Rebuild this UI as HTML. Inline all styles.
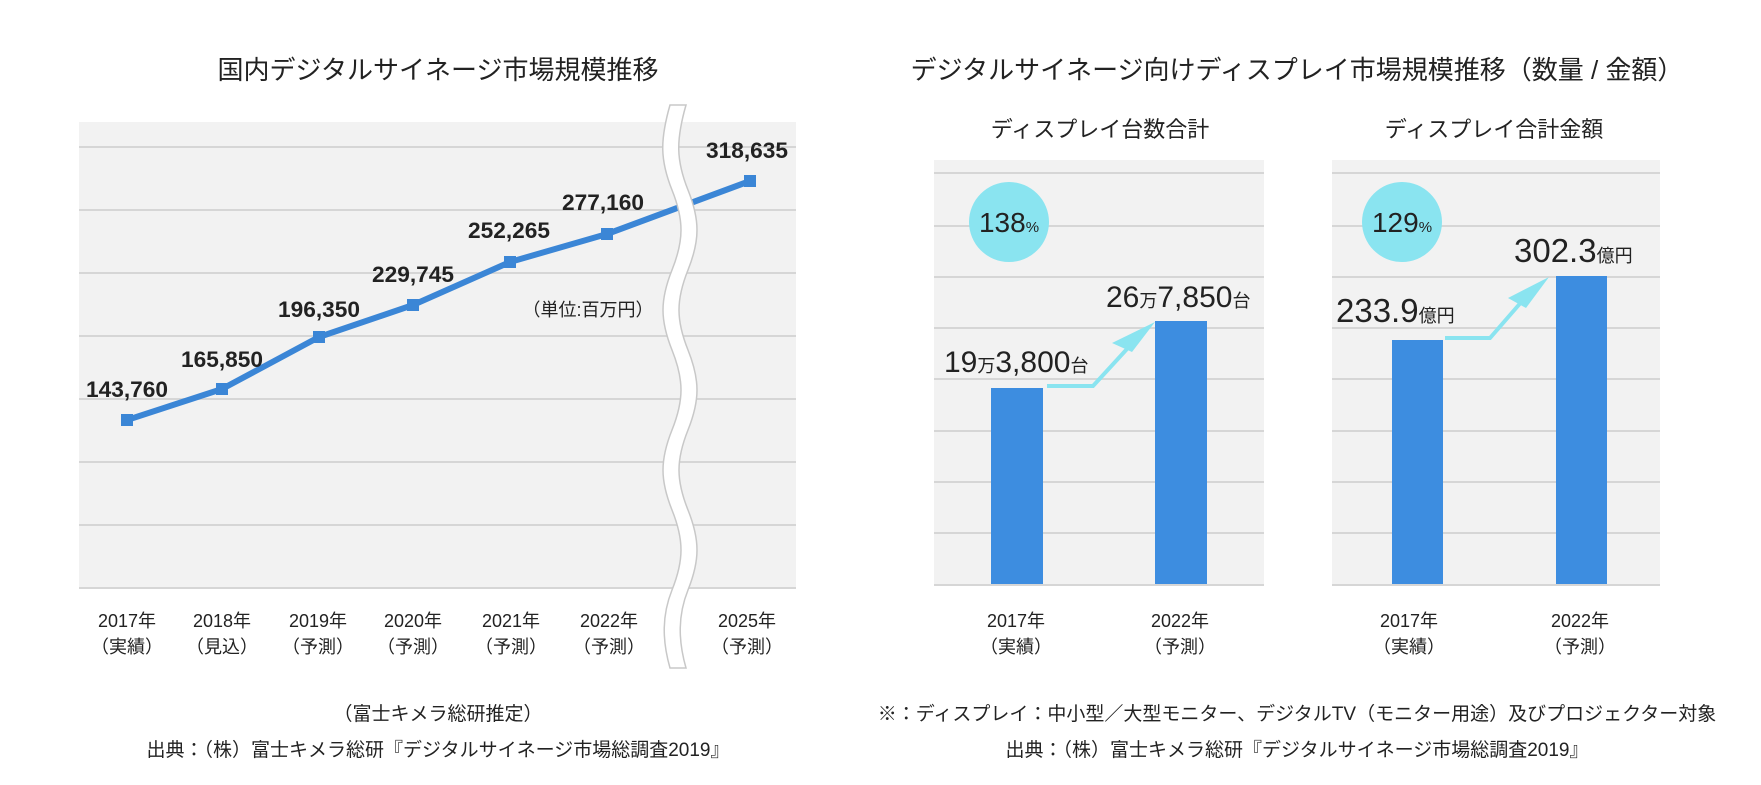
<!DOCTYPE html>
<html><head><meta charset="utf-8"><style>
html,body{margin:0;padding:0;background:#fff}
svg{display:block}
text{font-family:"Liberation Sans","Noto Sans CJK JP",sans-serif;fill:#222}
</style></head><body>
<svg width="1761" height="785" viewBox="0 0 1761 785" xmlns="http://www.w3.org/2000/svg">
<text x="438" y="79" font-size="26" text-anchor="middle">国内デジタルサイネージ市場規模推移</text>
<text x="1297" y="79" font-size="26" text-anchor="middle">デジタルサイネージ向けディスプレイ市場規模推移（数量 / 金額）</text>
<text x="1100" y="137" font-size="22" text-anchor="middle">ディスプレイ台数合計</text>
<text x="1494" y="137" font-size="22" text-anchor="middle">ディスプレイ合計金額</text>

<rect x="79" y="122" width="717" height="467" fill="#f2f2f2"/>
<g stroke="#d6d6d6" stroke-width="2">
<line x1="79" x2="796" y1="147" y2="147"/><line x1="79" x2="796" y1="210" y2="210"/>
<line x1="79" x2="796" y1="273" y2="273"/><line x1="79" x2="796" y1="336" y2="336"/>
<line x1="79" x2="796" y1="399" y2="399"/><line x1="79" x2="796" y1="462" y2="462"/>
<line x1="79" x2="796" y1="525" y2="525"/><line x1="79" x2="796" y1="588" y2="588"/>
</g>
<polyline points="127,420 222,389 319,337 413,305 510,262 607,234 750,181" fill="none" stroke="#3b86d6" stroke-width="6" stroke-linejoin="round"/>
<g fill="#3b86d6">
<rect x="121" y="414" width="12" height="12"/><rect x="216" y="383" width="12" height="12"/>
<rect x="313" y="331" width="12" height="12"/><rect x="407" y="299" width="12" height="12"/>
<rect x="504" y="256" width="12" height="12"/><rect x="601" y="228" width="12" height="12"/>
<rect x="744" y="175" width="12" height="12"/>
</g>
<path d="M670,105 C660,140 660,160 672,190 C684,220 684,240 672,270 C660,300 660,320 672,350 C684,380 684,400 672,430 C660,460 660,480 672,510 C684,540 684,560 672,590 C662,615 662,640 670,668 L686,668 C678,640 678,615 688,590 C700,560 700,540 688,510 C676,480 676,460 688,430 C700,400 700,380 688,350 C676,320 676,300 688,270 C700,240 700,220 688,190 C676,160 676,140 686,105 Z" fill="#fff" stroke="#c8c8c8" stroke-width="1.5"/>
<g font-size="22" font-weight="bold" text-anchor="middle">
<text x="127" y="397" textLength="82" lengthAdjust="spacingAndGlyphs">143,760</text>
<text x="222" y="367" textLength="82" lengthAdjust="spacingAndGlyphs">165,850</text>
<text x="319" y="317" textLength="82" lengthAdjust="spacingAndGlyphs">196,350</text>
<text x="413" y="282" textLength="82" lengthAdjust="spacingAndGlyphs">229,745</text>
<text x="509" y="238" textLength="82" lengthAdjust="spacingAndGlyphs">252,265</text>
<text x="603" y="210" textLength="82" lengthAdjust="spacingAndGlyphs">277,160</text>
<text x="747" y="158" textLength="82" lengthAdjust="spacingAndGlyphs">318,635</text>
</g>
<text x="588" y="316" font-size="18" text-anchor="middle">（単位:百万円）</text>
<g font-size="18" text-anchor="middle">
<text x="127" y="627">2017年</text><text x="127" y="653">（実績）</text>
<text x="222" y="627">2018年</text><text x="222" y="653">（見込）</text>
<text x="318" y="627">2019年</text><text x="318" y="653">（予測）</text>
<text x="413" y="627">2020年</text><text x="413" y="653">（予測）</text>
<text x="511" y="627">2021年</text><text x="511" y="653">（予測）</text>
<text x="609" y="627">2022年</text><text x="609" y="653">（予測）</text>
<text x="747" y="627">2025年</text><text x="747" y="653">（予測）</text>
</g>
<g font-size="19" text-anchor="middle">
<text x="438" y="720">（富士キメラ総研推定）</text>
<text x="438" y="756">出典：（株）富士キメラ総研『デジタルサイネージ市場総調査2019』</text>
<text x="1297" y="720">※：ディスプレイ：中小型／大型モニター、デジタルTV（モニター用途）及びプロジェクター対象</text>
<text x="1297" y="756">出典：（株）富士キメラ総研『デジタルサイネージ市場総調査2019』</text>
</g>

<rect x="934" y="160" width="330" height="426" fill="#f2f2f2"/>
<rect x="1332" y="160" width="328" height="426" fill="#f2f2f2"/>
<g stroke="#d6d6d6" stroke-width="2">
<path d="M934,173H1264M934,226H1264M934,277H1264M934,328H1264M934,379H1264M934,431H1264M934,482H1264M934,533H1264M934,585H1264"/>
<path d="M1332,173H1660M1332,226H1660M1332,277H1660M1332,328H1660M1332,379H1660M1332,431H1660M1332,482H1660M1332,533H1660M1332,585H1660"/>
</g>
<g fill="#3d8de0">
<rect x="991" y="388" width="52" height="196"/>
<rect x="1155" y="321" width="52" height="263"/>
<rect x="1392" y="340" width="51" height="244"/>
<rect x="1556" y="276" width="51" height="308"/>
</g>
<circle cx="1009" cy="222" r="40" fill="#8ae4f0"/>
<circle cx="1402" cy="222" r="40" fill="#8ae4f0"/>
<text x="1009" y="232" font-size="28" text-anchor="middle">138<tspan font-size="15">%</tspan></text>
<text x="1402" y="232" font-size="28" text-anchor="middle">129<tspan font-size="15">%</tspan></text>
<polyline points="1047,386 1093,386 1138,337" fill="none" stroke="#8ae4f0" stroke-width="4"/>
<polygon points="1155,322 1112,343 1132,352" fill="#8ae4f0"/>
<polyline points="1445,338 1490,338 1530,292" fill="none" stroke="#8ae4f0" stroke-width="4"/>
<polygon points="1549,277 1508,298 1526,308" fill="#8ae4f0"/>
<text x="944" y="372" font-size="30">19<tspan font-size="18">万</tspan>3,800<tspan font-size="18">台</tspan></text>
<text x="1106" y="307" font-size="30">26<tspan font-size="18">万</tspan>7,850<tspan font-size="18">台</tspan></text>
<text x="1336" y="322" font-size="33">233.9<tspan font-size="18">億円</tspan></text>
<text x="1514" y="262" font-size="33">302.3<tspan font-size="18">億円</tspan></text>
<g font-size="18" text-anchor="middle">
<text x="1016" y="627">2017年</text><text x="1016" y="653">（実績）</text>
<text x="1180" y="627">2022年</text><text x="1180" y="653">（予測）</text>
<text x="1409" y="627">2017年</text><text x="1409" y="653">（実績）</text>
<text x="1580" y="627">2022年</text><text x="1580" y="653">（予測）</text>
</g>
</svg>
</body></html>
